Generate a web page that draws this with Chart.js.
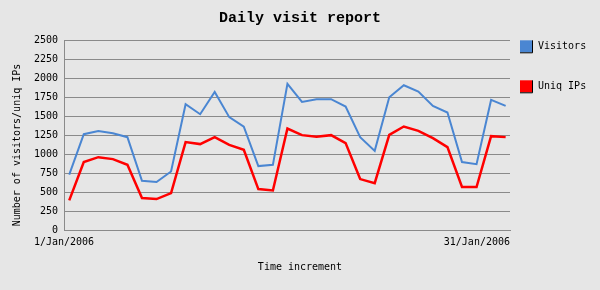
<!DOCTYPE html>
<html>
<head>
<meta charset="utf-8">
<script src="https://cdn.jsdelivr.net/npm/chart.js@4/dist/chart.umd.min.js"></script>
<style>
  html, body { margin: 0; padding: 0; background: #e6e6e6; }
  canvas { display: block; }
</style>
</head>
<body>
<canvas id="chart" width="600" height="290"></canvas>
<script>
// daily values, 1 Jan 2006 .. 31 Jan 2006
const days = [1, 2, 3, 4, 5, 6, 7, 8, 9, 10, 11, 12, 13, 14, 15, 16,
  17, 18, 19, 20, 21, 22, 23, 24, 25, 26, 27, 28, 29, 30, 31];
const visitors = [730, 1263, 1306, 1275, 1223, 649, 632, 771, 1658, 1526, 1820,
  1487, 1363, 842, 859, 1925, 1688, 1724, 1724, 1627, 1224, 1043, 1750, 1908,
  1824, 1636, 1548, 895, 868, 1714, 1636];
const uniqIPs = [390, 895, 960, 934, 859, 421, 408, 487, 1158, 1132, 1224,
  1122, 1057, 539, 521, 1337, 1250, 1228, 1250, 1145, 671, 618, 1254, 1364,
  1306, 1210, 1092, 566, 566, 1237, 1224];
const xTickLabels = ['1/Jan/2006', '31/Jan/2006'];
const yTicks = [0, 250, 500, 750, 1000, 1250, 1500, 1750, 2000, 2250, 2500];

const smallFont = '10px "DejaVu Sans Mono"';
const gridColor = '#8a8a8a';

const points = arr => arr.map((v, i) => ({ x: days[i] - 1, y: v }));

// background, x labels, y title and the legend box on the right
const extras = {
  id: 'extras',
  beforeDraw(chart) {
    const ctx = chart.ctx;
    ctx.save();
    ctx.fillStyle = '#e6e6e6';
    ctx.fillRect(0, 0, chart.width, chart.height);
    ctx.restore();
  },
  afterDraw(chart) {
    const ctx = chart.ctx;
    const area = chart.chartArea;
    const x = chart.scales.x;
    ctx.save();
    ctx.font = smallFont;
    ctx.fillStyle = '#000';
    ctx.textBaseline = 'middle';

    ctx.textAlign = 'center';
    ctx.fillText(xTickLabels[0], x.left, area.bottom + 12);
    ctx.textAlign = 'right';
    ctx.fillText(xTickLabels[1], x.right, area.bottom + 12);

    ctx.save();
    ctx.translate(17.5, chart.height / 2);
    ctx.rotate(-Math.PI / 2);
    ctx.textAlign = 'center';
    ctx.fillText('Number of visitors/uniq IPs', 0, 0);
    ctx.restore();

    chart.data.datasets.forEach((ds, i) => {
      const sx = area.right + 10;
      const sy = area.top + 40 * i;
      ctx.fillStyle = ds.borderColor;
      ctx.fillRect(sx, sy, 12, 12);
      ctx.strokeStyle = '#000';
      ctx.lineWidth = 1;
      ctx.beginPath();
      ctx.moveTo(sx + 12.5, sy);
      ctx.lineTo(sx + 12.5, sy + 12.5);
      ctx.lineTo(sx, sy + 12.5);
      ctx.stroke();
      ctx.fillStyle = '#000';
      ctx.textAlign = 'left';
      ctx.fillText(ds.label, sx + 18, sy + 6.5);
    });
    ctx.restore();
  }
};

new Chart(document.getElementById('chart'), {
  type: 'line',
  data: {
    datasets: [{
      label: 'Visitors',
      data: points(visitors),
      borderColor: '#4a86d2',
      borderWidth: 2,
      pointRadius: 0,
      tension: 0
    }, {
      label: 'Uniq IPs',
      data: points(uniqIPs),
      borderColor: '#ff0000',
      borderWidth: 2.5,
      pointRadius: 0,
      tension: 0
    }]
  },
  options: {
    responsive: false,
    animation: false,
    devicePixelRatio: 1,
    layout: { padding: 0 },
    plugins: {
      legend: { display: false },
      tooltip: { enabled: false },
      title: {
        display: true,
        text: 'Daily visit report',
        color: '#000',
        font: { family: 'Liberation Mono', size: 15, weight: 'bold', lineHeight: 1.2 },
        padding: { top: 9.5, bottom: 12.8 }
      },
      subtitle: {
        display: true,
        position: 'bottom',
        text: 'Time increment',
        color: '#000',
        font: { family: 'DejaVu Sans Mono', size: 10, lineHeight: 1.2 },
        padding: { top: 0, bottom: 17 }
      }
    },
    scales: {
      x: {
        type: 'linear',
        min: -0.36,
        max: 30.3,
        grid: { display: false },
        border: { display: true, color: gridColor, width: 1 },
        ticks: { display: false },
        afterFit(s) { s.height = 31; }
      },
      y: {
        min: 0,
        max: 2500,
        afterBuildTicks(s) { s.ticks = yTicks.map(v => ({ value: v })); },
        grid: { color: gridColor, lineWidth: 1, drawTicks: false },
        border: { display: true, color: gridColor, width: 1 },
        ticks: {
          color: '#000',
          font: { family: 'DejaVu Sans Mono', size: 10 },
          padding: 6,
          callback: v => String(v)
        },
        afterFit(s) { s.width = 64; }
      },
      side: {
        position: 'right',
        display: true,
        grid: { display: false },
        border: { display: false },
        ticks: { display: false },
        afterFit(s) { s.width = 90; }
      }
    }
  },
  plugins: [extras]
});
</script>
</body>
</html>
